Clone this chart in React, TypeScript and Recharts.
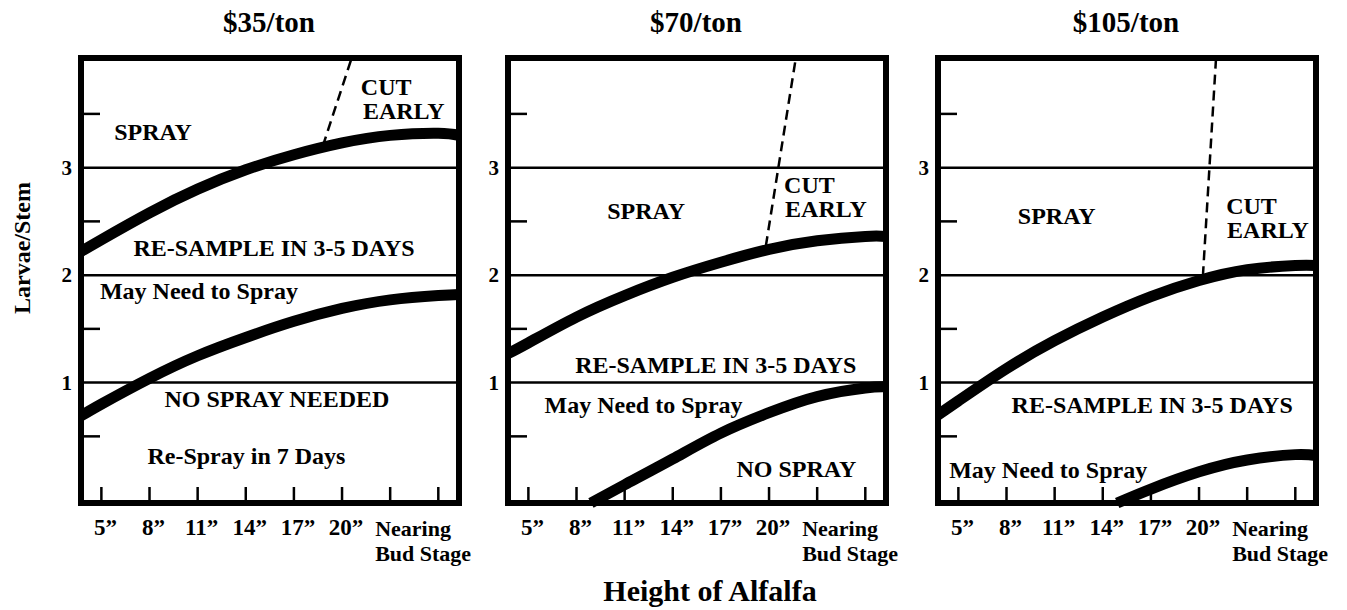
import React from "react";
import {
  LineChart,
  Line,
  XAxis,
  YAxis,
  ReferenceLine,
  ReferenceArea,
  ReferenceDot,
} from "recharts";

const FONT = '"Liberation Serif", "Times New Roman", Times, serif';

// axes
const xTicks = [5, 8, 11, 14, 17, 20, 23, 26];
const xTickLabels = ["5”", "8”", "11”", "14”", "17”", "20”", "", ""];
const budStage = ["Nearing", "Bud Stage"];
const yTicks = [0.5, 1, 1.5, 2, 2.5, 3, 3.5];
const yTickLabels = ["", "1", "", "2", "", "3", ""];
const thresholds = [1, 2, 3];
const xDomain: [number, number] = [3.73, 27.29];
const yDomain: [number, number] = [-0.12, 4.02];

const prices = ["$35/ton", "$70/ton", "$105/ton"];

// height of alfalfa (inches) for the curves
const heights = [3.73, 5, 8, 11, 14, 17, 20, 23, 26, 27.29];

// $35/ton
const upper35 = [2.22, 2.33, 2.58, 2.8, 2.98, 3.12, 3.23, 3.3, 3.32, 3.3];
const lower35 = [0.69, 0.8, 1.04, 1.25, 1.42, 1.57, 1.69, 1.77, 1.81, 1.82];
const cutH35 = [18.8, 20.6];
const cutV35 = [3.2, 4.02];

// $70/ton
const upper70 = [1.27, 1.37, 1.61, 1.81, 1.98, 2.12, 2.24, 2.32, 2.36, 2.36];
const lowerH70 = [8.9, 11, 14, 17, 20, 23, 26, 27.29];
const lower70 = [-0.12, 0.05, 0.29, 0.53, 0.72, 0.87, 0.95, 0.96];
const cutH70 = [19.8, 21.67];
const cutV70 = [2.27, 4.02];

// $105/ton
const upper105 = [0.7, 0.83, 1.13, 1.39, 1.61, 1.8, 1.95, 2.05, 2.09, 2.09];
const lowerH105 = [14.9, 17, 20, 23, 26, 27.29];
const lower105 = [-0.12, 0.01, 0.17, 0.28, 0.33, 0.32];
const cutH105 = [20.24, 21.06];
const cutV105 = [1.99, 4.02];

type Note = { text: string; h: number; v: number; anchor?: "start" | "middle" };

const notes35: Note[] = [
  { text: "SPRAY", h: 8.22, v: 3.33 },
  { text: "CUT", h: 21.17, v: 3.75, anchor: "start" },
  { text: "EARLY", h: 21.3, v: 3.53, anchor: "start" },
  { text: "RE-SAMPLE IN 3-5 DAYS", h: 15.76, v: 2.25 },
  { text: "May Need to Spray", h: 11.08, v: 1.85 },
  { text: "NO SPRAY NEEDED", h: 15.94, v: 0.85 },
  { text: "Re-Spray in 7 Days", h: 14.04, v: 0.32 },
];
const notes70: Note[] = [
  { text: "SPRAY", h: 12.34, v: 2.6 },
  { text: "CUT", h: 20.94, v: 2.84, anchor: "start" },
  { text: "EARLY", h: 21.0, v: 2.61, anchor: "start" },
  { text: "RE-SAMPLE IN 3-5 DAYS", h: 16.68, v: 1.16 },
  { text: "May Need to Spray", h: 12.18, v: 0.79 },
  { text: "NO SPRAY", h: 21.7, v: 0.2 },
];
const notes105: Note[] = [
  { text: "SPRAY", h: 11.13, v: 2.55 },
  { text: "CUT", h: 21.69, v: 2.64, anchor: "start" },
  { text: "EARLY", h: 21.75, v: 2.42, anchor: "start" },
  { text: "RE-SAMPLE IN 3-5 DAYS", h: 17.08, v: 0.79 },
  { text: "May Need to Spray", h: 10.6, v: 0.19 },
];

const pts = (hs: number[], vs: number[]) => hs.map((h, i) => ({ h, v: vs[i] }));

const panels = [
  {
    title: prices[0],
    plotLeft: 81,
    upper: pts(heights, upper35),
    lower: pts(heights, lower35),
    cut: pts(cutH35, cutV35),
    notes: notes35,
  },
  {
    title: prices[1],
    plotLeft: 508,
    upper: pts(heights, upper70),
    lower: pts(lowerH70, lower70),
    cut: pts(cutH70, cutV70),
    notes: notes70,
  },
  {
    title: prices[2],
    plotLeft: 938,
    upper: pts(heights, upper105),
    lower: pts(lowerH105, lower105),
    cut: pts(cutH105, cutV105),
    notes: notes105,
  },
];

const W = 1347;
const H = 610;
const CHART_W = 480;
// axes take 1px each, so the plot runs x 75..453 and y 58..503 inside each chart
const MARGIN = { top: 58, left: 74, right: 27, bottom: 106 };
const PLOT_W = 378;

const textStyle = { fontFamily: FONT, fontWeight: 700, fill: "#000" };

function XTick(props: any) {
  const { x, y, payload } = props;
  const i = xTicks.indexOf(payload.value);
  const label = xTickLabels[i];
  return (
    <g>
      <line x1={x} x2={x} y1={y} y2={y - 16} stroke="#000" strokeWidth={2.5} />
      {label && (
        <text x={x + 4} y={y + 32} textAnchor="middle" fontSize={23} {...textStyle}>
          {label}
        </text>
      )}
      {payload.value === 23 && (
        <text x={x - 15} y={y + 33} textAnchor="start" fontSize={22} {...textStyle}>
          {budStage[0]}
          <tspan x={x - 15} dy={24.5}>
            {budStage[1]}
          </tspan>
        </text>
      )}
    </g>
  );
}

function YTick(props: any) {
  const { x, y, payload } = props;
  const label = yTickLabels[yTicks.indexOf(payload.value)];
  if (!label) {
    return <line x1={x} x2={x + 19} y1={y} y2={y} stroke="#000" strokeWidth={2.5} />;
  }
  return (
    <text x={x - 9} y={y} dy="0.33em" textAnchor="end" fontSize={21} {...textStyle}>
      {label}
    </text>
  );
}

const noteLabel = (n: Note) => (p: any) => {
  const vb = p.viewBox || {};
  const cx = (vb.x ?? 0) + (vb.width ?? 0) / 2;
  const cy = (vb.y ?? 0) + (vb.height ?? 0) / 2;
  return (
    <text
      x={cx}
      y={cy}
      dy="0.33em"
      textAnchor={n.anchor || "middle"}
      fontSize={24}
      {...textStyle}
    >
      {n.text}
    </text>
  );
};

function Panel({ panel }: { panel: (typeof panels)[number] }) {
  return (
    <div style={{ position: "absolute", left: panel.plotLeft - 75, top: 0 }}>
      <LineChart width={CHART_W} height={H} margin={MARGIN}>
        <XAxis
          dataKey="h"
          type="number"
          domain={xDomain}
          ticks={xTicks}
          interval={0}
          height={1}
          axisLine={false}
          tickLine={false}
          tickSize={0}
          tickMargin={0}
          tick={(p: any) => <XTick {...p} />}
        />
        <YAxis
          type="number"
          domain={yDomain}
          ticks={yTicks}
          interval={0}
          width={1}
          axisLine={false}
          tickLine={false}
          tickSize={0}
          tickMargin={0}
          tick={(p: any) => <YTick {...p} />}
        />
        {thresholds.map((t) => (
          <ReferenceLine key={t} y={t} stroke="#000" strokeWidth={2.5} />
        ))}
        <ReferenceLine
          segment={[panel.cut[0], panel.cut[1]].map((c) => ({ x: c.h, y: c.v }))}
          stroke="#000"
          strokeWidth={2.5}
          strokeDasharray="10 6"
          ifOverflow="visible"
        />
        <Line
          data={panel.upper}
          dataKey="v"
          type="natural"
          stroke="#000"
          strokeWidth={11}
          dot={false}
          activeDot={false}
          isAnimationActive={false}
        />
        <Line
          data={panel.lower}
          dataKey="v"
          type="natural"
          stroke="#000"
          strokeWidth={11}
          dot={false}
          activeDot={false}
          isAnimationActive={false}
        />
        {panel.notes.map((n, i) => (
          <ReferenceDot
            key={i}
            x={n.h}
            y={n.v}
            r={1}
            fill="none"
            stroke="none"
            label={noteLabel(n)}
          />
        ))}
        <ReferenceArea
          x1={xDomain[0]}
          x2={xDomain[1]}
          y1={yDomain[0]}
          y2={yDomain[1]}
          fill="none"
          fillOpacity={0}
          stroke="#000"
          strokeWidth={6}
          ifOverflow="visible"
        />
      </LineChart>
    </div>
  );
}

export default function App() {
  return (
    <div
      style={{
        position: "absolute",
        left: 0,
        top: 0,
        width: W,
        height: H,
        background: "#fff",
        overflow: "hidden",
      }}
    >
      {panels.map((p) => (
        <Panel key={p.title} panel={p} />
      ))}
      <svg
        width={W}
        height={H}
        style={{ position: "absolute", left: 0, top: 0, pointerEvents: "none" }}
      >
        {panels.map((p) => (
          <text
            key={p.title}
            x={p.plotLeft + PLOT_W / 2 - 1}
            y={31.5}
            textAnchor="middle"
            fontSize={29}
            {...textStyle}
          >
            {p.title}
          </text>
        ))}
        <text
          x={30}
          y={248}
          transform="rotate(-90 30 248)"
          textAnchor="middle"
          fontSize={24}
          {...textStyle}
        >
          Larvae/Stem
        </text>
        <text x={710} y={601} textAnchor="middle" fontSize={30} {...textStyle}>
          Height of Alfalfa
        </text>
      </svg>
    </div>
  );
}
